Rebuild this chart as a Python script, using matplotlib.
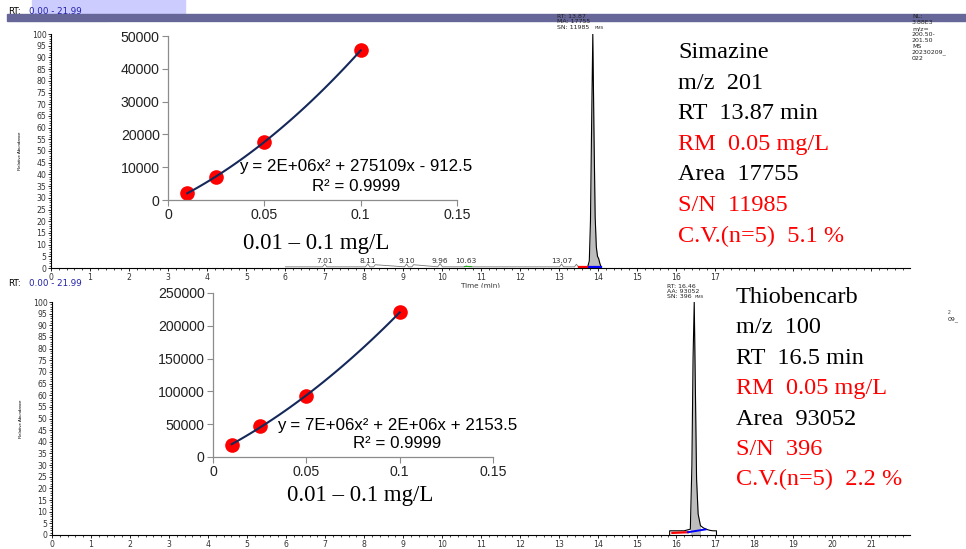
import numpy as np
import matplotlib
matplotlib.use("Agg")
from matplotlib import pyplot as plt
from matplotlib.ticker import MultipleLocator, FuncFormatter
from matplotlib.patches import Rectangle

# ---- calibration data (conc mg/L vs area) ----
conc = [0.01, 0.025, 0.05, 0.1]
sim_area = [2100, 7100, 17755, 45600]
thio_area = [18500, 46500, 93052, 220500]

sim_eq = "y = 2E+06x² + 275109x - 912.5"
thio_eq = "y = 7E+06x² + 2E+06x + 2153.5"
r2_text = "R² = 0.9999"
range_text = "0.01 – 0.1 mg/L"

# ---- chromatogram traces (time min, relative abundance %) ----
sim_t = [6.00, 6.95, 7.01, 7.06, 8.05, 8.11, 8.16, 8.26, 8.30, 9.05, 9.10, 9.15,
         9.24, 9.28, 9.90, 9.96, 10.02, 10.60, 10.63, 10.70, 13.02, 13.07, 13.12,
         13.40, 13.45, 13.50]
sim_i = [0.5, 0.5, 1.7, 0.5, 0.5, 1.8, 0.5, 0.5, 1.4, 0.5, 1.7, 0.5,
         0.5, 1.4, 0.5, 1.9, 0.5, 0.5, 0.9, 0.5, 0.5, 1.7, 0.5,
         0.5, 1.6, 0.5]
sim_pk_t = [13.74, 13.78, 13.81, 13.84, 13.87, 13.90, 13.93, 13.96, 13.99, 14.02, 14.05, 14.08]
sim_pk_i = [0.5, 3, 20, 62, 100, 58, 22, 9, 5, 4, 2, 0.5]
sim_labels = ["7.01", "8.11", "9.10", "9.96", "10.63", "13.07"]

thio_t = [15.83, 15.83, 16.00, 16.20, 16.36, 16.40, 16.43, 16.46, 16.49, 16.52,
          16.56, 16.62, 16.70, 16.78, 16.86, 16.94, 17.03, 17.03]
thio_i = [0, 1.8, 1.8, 1.8, 2.5, 30, 76, 100, 62, 24, 9, 4, 3.0, 2.4, 2.0, 1.8, 1.8, 0]

W, H = 966, 549
plt.rcParams['font.family'] = ['Liberation Sans', 'DejaVu Sans']

fig = plt.figure(figsize=(W / 100, H / 100), dpi=100)


def rect(l, t, r, b):
    return [l / W, 1 - b / H, (r - l) / W, (b - t) / H]


def ftext(x, y, s, **kw):
    return fig.text(x / W, 1 - y / H, s, **kw)


def chrom_axes(l, t, r, b, last_label):
    ax = fig.add_axes(rect(l, t, r, b))
    ax.set_xlim(0, 21.99)
    ax.set_ylim(0, 100)
    for s in ['top', 'right']:
        ax.spines[s].set_visible(False)
    for s in ['left', 'bottom']:
        ax.spines[s].set_linewidth(0.8)
    ax.xaxis.set_major_locator(MultipleLocator(1))
    ax.xaxis.set_minor_locator(MultipleLocator(0.2))
    ax.yaxis.set_major_locator(MultipleLocator(5))
    ax.yaxis.set_minor_locator(MultipleLocator(1))
    ax.xaxis.set_major_formatter(FuncFormatter(
        lambda v, p: "%d" % round(v) if v <= last_label + 0.01 else ""))
    ax.tick_params(which='major', length=2.5, width=0.6, labelsize=5.6, pad=0.8,
                   labelcolor='#333333')
    ax.tick_params(which='minor', length=1.5, width=0.5)
    plt.setp(ax.get_xticklabels() + ax.get_yticklabels(), family='DejaVu Sans')
    ax.set_xlabel("Time (min)", fontsize=5.2, labelpad=0.5, color='#333333',
                  family='DejaVu Sans')
    ax.set_ylabel("Relative Abundance", fontsize=3.2, labelpad=7)
    ax.patch.set_alpha(0)
    return ax


def rt_range(y):
    ftext(8, y, "RT:", fontsize=6.3, family='DejaVu Sans', va='center')
    ftext(29, y, "0.00 - 21.99", fontsize=6.3, family='DejaVu Sans', va='center',
          color='#2222aa')


# ---- header band ----
fig.patches.append(Rectangle((32 / W, 1 - 14 / H), 153 / W, 14 / H,
                             transform=fig.transFigure, color='#ccccff', zorder=0))
fig.patches.append(Rectangle((7 / W, 1 - 21 / H), 959 / W, 7 / H,
                             transform=fig.transFigure, color='#666699', zorder=0))
rt_range(11.5)

# ---- top chromatogram (Simazine) ----
ax1 = chrom_axes(51, 34, 910, 268, 17)
ax1.plot(sim_t, sim_i, color='#777777', lw=0.6)
ax1.fill_between(sim_pk_t, sim_pk_i, color='#bdbdbd', lw=0)
ax1.plot(sim_pk_t, sim_pk_i, color='black', lw=0.8)
ax1.plot([13.52, 13.78], [0.6, 0.6], color='red', lw=1.6)
ax1.plot([13.78, 14.08], [0.6, 0.6], color='blue', lw=1.6)
ax1.plot([10.58, 10.75], [0.9, 0.9], color='#22aa22', lw=0.8)
for lab in sim_labels:
    ax1.text(float(lab), 1.9, lab, fontsize=5.4, ha='center', va='bottom',
             color='#333333', family='DejaVu Sans')

ann_kw = dict(fontsize=4.5, va='center', color='#222222', family='DejaVu Sans')
ftext(557, 16.5, "RT: 13.87", **ann_kw)
ftext(557, 21.8, "MA: 17755", **ann_kw)
ftext(557, 27.1, "SN: 11985", **ann_kw)
ftext(595, 27.6, "RMS", fontsize=3.0, va='center', color='#222222')

nl_lines = ["NL:", "3.88E3", "m/z=", "200.50-", "201.50", "MS", "20230209_", "022"]
for k, s in enumerate(nl_lines):
    ftext(912, 17 + 5.9 * k, s, **ann_kw)

# ---- bottom chromatogram (Thiobencarb) ----
rt_range(283.5)
ax2 = chrom_axes(52, 302, 910, 535, 21)
ax2.fill_between(thio_t[4:12], thio_i[4:12], color='#bdbdbd', lw=0)
ax2.plot(thio_t, thio_i, color='black', lw=0.8)
ax2.plot([15.9, 16.3], [0.9, 1.2], color='red', lw=1.6)
ax2.plot([16.3, 16.75], [1.2, 2.4], color='blue', lw=1.4)

ftext(667, 286, "RT: 16.46", **ann_kw)
ftext(667, 291.3, "AA: 93052", **ann_kw)
ftext(667, 296.6, "SN: 396", **ann_kw)
ftext(695, 297.1, "RMS", fontsize=3.0, va='center', color='#222222')
ftext(948, 313, "2", fontsize=3.4, va='center', color='#333333')
ftext(948, 319, "09_", **ann_kw)

# ---- white backgrounds for inserts ----
for (l, t, r, b) in [(108, 23, 470, 255), (150, 288, 520, 512)]:
    fig.patches.append(Rectangle((l / W, 1 - b / H), (r - l) / W, (b - t) / H,
                                 transform=fig.transFigure, color='white', zorder=2))


def calib_axes(l, t, r, b, area, ymax, step):
    ax = fig.add_axes(rect(l, t, r, b), zorder=3)
    ax.patch.set_alpha(0)
    ax.set_xlim(0, 0.15)
    ax.set_ylim(0, ymax)
    ax.set_xticks([0, 0.05, 0.1, 0.15])
    ax.set_xticklabels(["0", "0.05", "0.1", "0.15"])
    ax.set_yticks(np.arange(0, ymax + 1, step))
    for s in ['top', 'right']:
        ax.spines[s].set_visible(False)
    for s in ['left', 'bottom']:
        ax.spines[s].set_color('#8c8c8c')
        ax.spines[s].set_linewidth(0.9)
    ax.tick_params(length=4, width=0.8, color='#8c8c8c', labelsize=10.2,
                   labelcolor='#222222', pad=2)
    coef = np.polyfit(conc, area, 2)
    xs = np.linspace(conc[0], conc[-1], 100)
    ax.plot(xs, np.polyval(coef, xs), color='#14285a', lw=1.5, zorder=3)
    ax.plot(conc, area, 'o', color='red', ms=9.5, zorder=2)
    return ax


calib_axes(168, 36, 457, 200, sim_area, 50000, 10000)
ftext(356, 166.5, sim_eq, fontsize=12.2, ha='center', va='center', zorder=5)
ftext(356, 186.5, r2_text, fontsize=12.2, ha='center', va='center', zorder=5)
ftext(316, 244, range_text, fontsize=16.4, family='Liberation Serif',
      ha='center', va='center', zorder=5)

calib_axes(213, 293, 493, 457, thio_area, 250000, 50000)
ftext(397, 425.5, thio_eq, fontsize=12.2, ha='center', va='center', zorder=5)
ftext(397, 443, r2_text, fontsize=12.2, ha='center', va='center', zorder=5)
ftext(360, 495, range_text, fontsize=16.4, family='Liberation Serif',
      ha='center', va='center', zorder=5)

# ---- compound info blocks ----
sim_info = [("Simazine", 'black'), ("m/z  201", 'black'), ("RT  13.87 min", 'black'),
            ("RM  0.05 mg/L", 'red'), ("Area  17755", 'black'), ("S/N  11985", 'red'),
            ("C.V.(n=5)  5.1 %", 'red')]
thio_info = [("Thiobencarb", 'black'), ("m/z  100", 'black'), ("RT  16.5 min", 'black'),
             ("RM  0.05 mg/L", 'red'), ("Area  93052", 'black'), ("S/N  396", 'red'),
             ("C.V.(n=5)  2.2 %", 'red')]
for k, (s, c) in enumerate(sim_info):
    ftext(678, 50 + 30.6 * k, s, fontsize=17.5, family='Liberation Serif', color=c,
          va='center_baseline', zorder=5)
for k, (s, c) in enumerate(thio_info):
    ftext(736, 295 + 30.4 * k, s, fontsize=17.5, family='Liberation Serif', color=c,
          va='center_baseline', zorder=5)

fig.savefig("out.png", dpi=100)
